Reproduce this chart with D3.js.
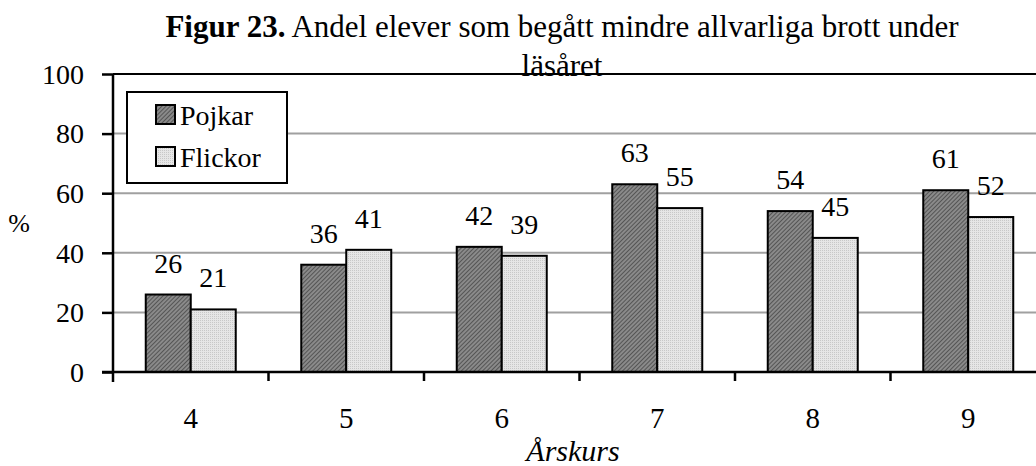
<!DOCTYPE html>
<html><head><meta charset="utf-8">
<script src="https://cdn.jsdelivr.net/npm/d3@7"></script>
<style>body{margin:0;background:#fff}svg{display:block}</style>
</head><body>
<svg id="c" width="1036" height="466"></svg>
<script>
const categories = ["4","5","6","7","8","9"];
const pojkar = [26,36,42,63,54,61];
const flickor = [21,41,39,55,45,52];
const seriesNames = ["Pojkar","Flickor"];
const yTicks = [0,20,40,60,80,100];

const svg = d3.select("#c");
const W=1036,H=466;
const m={left:113,right:-10,top:74,bottom:94};
const x0=m.left, x1=W-m.right, y0=H-m.bottom, y1=m.top;
const font="'Liberation Serif','Times New Roman',serif";

const defs=svg.append("defs");
const p1=defs.append("pattern").attr("id","hatch").attr("patternUnits","userSpaceOnUse").attr("width",3).attr("height",3).attr("patternTransform","rotate(45)");
p1.append("rect").attr("width",3).attr("height",3).attr("fill","#8a8a8a");
p1.append("rect").attr("width",1).attr("height",3).attr("fill","#555");
const p2=defs.append("pattern").attr("id","dots").attr("patternUnits","userSpaceOnUse").attr("width",2).attr("height",2);
p2.append("rect").attr("width",2).attr("height",2).attr("fill","#e6e6e6");
p2.append("rect").attr("width",1).attr("height",1).attr("fill","#c8c8c8");

const x=d3.scaleBand().domain(categories).range([x0,x1]);
const xs=d3.scaleBand().domain(seriesNames).range([0,90]);
const y=d3.scaleLinear().domain([0,100]).range([y0,y1]);

// gridlines
svg.append("g").selectAll("line").data(yTicks.filter(t=>t>0&&t<100)).join("line")
 .attr("x1",x0).attr("x2",W).attr("y1",d=>y(d)).attr("y2",d=>y(d))
 .attr("stroke","#a0a0a0").attr("stroke-width",2);

// title
const t=svg.append("text").attr("x",562).attr("y",37).attr("text-anchor","middle").attr("font-family",font).attr("font-size",31);
t.append("tspan").attr("font-weight","bold").text("Figur 23.");
t.append("tspan").text(" Andel elever som begått mindre allvarliga brott under");
svg.append("text").attr("x",562).attr("y",76).attr("text-anchor","middle").attr("font-family",font).attr("font-size",31).text("läsåret");

// top line
svg.append("line").attr("x1",x0).attr("x2",W).attr("y1",y(100)).attr("y2",y(100)).attr("stroke","#000").attr("stroke-width",2);

const data=categories.map((c,i)=>({c,vals:[pojkar[i],flickor[i]]}));
const fills=["url(#hatch)","url(#dots)"];
const g=svg.append("g");
data.forEach(d=>{
  const gx=x(d.c)+(x.bandwidth()-90)/2;
  d.vals.forEach((v,j)=>{
    const bx=gx+xs(seriesNames[j]);
    g.append("rect").attr("x",bx).attr("y",y(v)).attr("width",xs.bandwidth()).attr("height",y(0)-y(v))
     .attr("fill",fills[j]).attr("stroke","#000").attr("stroke-width",2);
    g.append("text").attr("x",bx+xs.bandwidth()/2).attr("y",y(v)-22).attr("text-anchor","middle")
     .attr("font-family",font).attr("font-size",28).text(v);
  });
});

// y axis
const ya=svg.append("g").attr("transform",`translate(${x0},0)`)
 .call(d3.axisLeft(y).tickValues(yTicks).tickSize(11).tickPadding(18));
ya.select(".domain").attr("stroke","#000").attr("stroke-width",2.5).attr("d",`M0,${y1}V${y0+10}`);
ya.selectAll(".tick line").attr("stroke","#000").attr("stroke-width",2.5);
ya.selectAll("text").attr("font-family",font).attr("font-size",28).attr("fill","#000").attr("dy","0.33em");

// x axis
const xa=svg.append("g").attr("transform",`translate(0,${y0})`);
xa.append("line").attr("x1",x0-11).attr("x2",W).attr("y1",0).attr("y2",0).attr("stroke","#000").attr("stroke-width",2.5);
xa.selectAll("line.tk").data(categories.slice(1)).join("line").attr("class","tk")
 .attr("x1",d=>x(d)).attr("x2",d=>x(d)).attr("y1",0).attr("y2",9).attr("stroke","#000").attr("stroke-width",2.5);
xa.selectAll("text").data(categories).join("text")
 .attr("x",d=>x(d)+x.bandwidth()/2).attr("y",56).attr("text-anchor","middle")
 .attr("font-family",font).attr("font-size",29).text(d=>d);

// axis titles
svg.append("text").attr("x",573).attr("y",461).attr("text-anchor","middle").attr("font-family",font)
 .attr("font-size",30).attr("font-style","italic").text("Årskurs");
svg.append("text").attr("x",19).attr("y",232).attr("text-anchor","middle").attr("font-family",font)
 .attr("font-size",26).text("%");

// legend
const lg=svg.append("g");
lg.append("rect").attr("x",127).attr("y",92).attr("width",160).attr("height",91).attr("fill","#fff").attr("stroke","#000").attr("stroke-width",2);
seriesNames.forEach((s,i)=>{
  const yy=105+i*42;
  lg.append("rect").attr("x",156).attr("y",yy).attr("width",19).attr("height",19).attr("fill",fills[i]).attr("stroke","#000").attr("stroke-width",2);
  lg.append("text").attr("x",180).attr("y",yy+20).attr("font-family",font).attr("font-size",28).text(s);
});
</script>
</body></html>
